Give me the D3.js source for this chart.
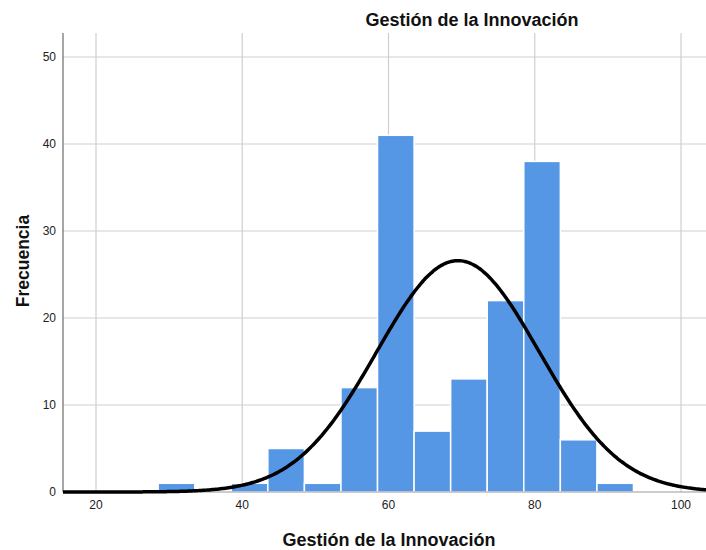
<!DOCTYPE html>
<html><head><meta charset="utf-8">
<script src="https://cdn.jsdelivr.net/npm/d3@7"></script>
<style>body{margin:0;background:#fff}svg{display:block}text{font-family:"Liberation Sans",Arial,sans-serif}</style>
</head><body><svg id="c" width="706" height="550"></svg>
<script>
const binStarts = [28.5,33.5,38.5,43.5,48.5,53.5,58.5,63.5,68.5,73.5,78.5,83.5,88.5];
const binWidth = 5;
const counts = [1,0,1,5,1,12,41,7,13,22,38,6,1];
const xTicks = [20,40,60,80,100];
const yTicks = [0,10,20,30,40,50];
const curveMean = 69.5, curveSD = 11.1;
const title = "Gestión de la Innovación";
const xLabel = "Gestión de la Innovación";
const yLabel = "Frecuencia";

const svg = d3.select("#c");
const L = 63, R = 706, T = 33, B = 492;
const x = d3.scaleLinear().domain([20,100]).range([96,681]);
const y = d3.scaleLinear().domain([0,50]).range([B,57]);
const x0 = x.invert(L), x1 = x.invert(R);

// gridlines
svg.append("g").selectAll("line").data(yTicks.filter(d=>d>0)).join("line")
  .attr("x1",L).attr("x2",R).attr("y1",d=>y(d)).attr("y2",d=>y(d))
  .attr("stroke","#cfcfcf").attr("stroke-width",1.2);
svg.append("g").selectAll("line").data(xTicks).join("line")
  .attr("x1",d=>x(d)).attr("x2",d=>x(d)).attr("y1",T).attr("y2",B)
  .attr("stroke","#cfcfcf").attr("stroke-width",1.2);

// bars
svg.append("g").selectAll("rect").data(binStarts.map((s,i)=>({s,c:counts[i]})).filter(d=>d.c>0)).join("rect")
  .attr("x",d=>x(d.s)).attr("width",d=>x(d.s+binWidth)-x(d.s))
  .attr("y",d=>y(d.c)).attr("height",d=>B-y(d.c))
  .attr("fill","#5596e5").attr("stroke","#ffffff").attr("stroke-width",1.5);

// axes lines
svg.append("line").attr("x1",L).attr("x2",R).attr("y1",B).attr("y2",B).attr("stroke","#9a9a9a").attr("stroke-width",1.2);
svg.append("line").attr("x1",L).attr("x2",L).attr("y1",T).attr("y2",B).attr("stroke","#6a6a6a").attr("stroke-width",1.2);

// normal curve
const N = d3.sum(counts);
const pts = d3.range(0,401).map(i=>{const v = x0 + (x1-x0)*i/400;
  const dens = N*binWidth/(curveSD*Math.sqrt(2*Math.PI))*Math.exp(-0.5*((v-curveMean)/curveSD)**2);
  return [v,dens];});
svg.append("path").datum(pts).attr("fill","none").attr("stroke","#000").attr("stroke-width",3.5)
  .attr("d",d3.line().x(d=>x(d[0])).y(d=>y(d[1])).curve(d3.curveBasis));

// tick labels
svg.append("g").selectAll("text").data(yTicks).join("text")
  .attr("x",56).attr("y",d=>y(d)).attr("dy","0.35em").attr("text-anchor","end")
  .attr("font-size",12).attr("fill","#222").text(d=>d);
svg.append("g").selectAll("text").data(xTicks).join("text")
  .attr("x",d=>x(d)).attr("y",509).attr("text-anchor","middle")
  .attr("font-size",12).attr("fill","#222").text(d=>d);

svg.append("text").attr("x",472).attr("y",26).attr("text-anchor","middle")
  .attr("font-size",18).attr("font-weight","bold").attr("fill","#111").text(title);
svg.append("text").attr("x",389).attr("y",546).attr("text-anchor","middle")
  .attr("font-size",18).attr("font-weight","bold").attr("fill","#111").text(xLabel);
svg.append("text").attr("transform","translate(29,261) rotate(-90)").attr("text-anchor","middle")
  .attr("font-size",17.5).attr("font-weight","bold").attr("fill","#111").text(yLabel);
</script></body></html>
